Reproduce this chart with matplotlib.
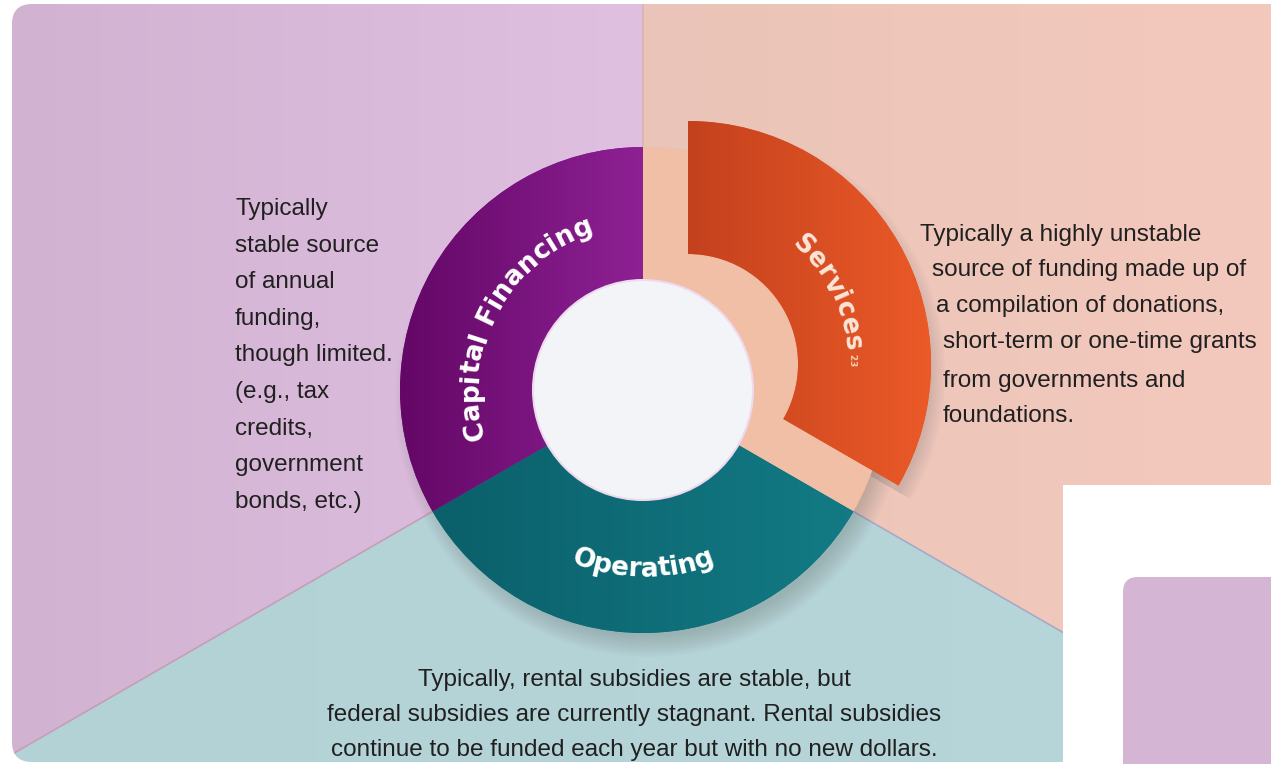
import numpy as np
import matplotlib
matplotlib.use("Agg")
import matplotlib.pyplot as plt
from matplotlib.patches import Wedge, Circle, FancyBboxPatch, Rectangle
from matplotlib.colors import LinearSegmentedColormap, to_rgb
from matplotlib import font_manager as fm

W, H = 1271, 764
CX, CY, R = 643, 390, 243      # ring centre / outer radius (px)
INNER = 110                    # inner radius (px)

# --- data ---------------------------------------------------------------
segments = ["Services", "Operating", "Capital Financing"]
shares = [1, 1, 1]
explode = [0.214, 0.0, 0.0]
ring_colors = [("#c4411e", "#eb5a28"), ("#0a5f6a", "#137b85"), ("#630766", "#8e2194")]
bg_colors = [("#eac4b8", "#f4c9bd"), ("#b3d2d6", "#b7d6da"), ("#d1b2d1", "#e0c0e1")]

left_lines = ["Typically", "stable source", "of annual", "funding,", "though limited.",
              "(e.g., tax", "credits,", "government", "bonds, etc.)"]
right_lines = ["Typically a highly unstable", "source of funding made up of",
               "a compilation of donations,", "short-term or one-time grants",
               "from governments and", "foundations."]
bottom_lines = ["Typically, rental subsidies are stable, but",
                "federal subsidies are currently stagnant. Rental subsidies",
                "continue to be funded each year but with no new dollars."]


def P(px, py):
    # pixel position -> data units (ring radius = 1)
    return (px - CX) / R, (CY - py) / R


# body font: condensed if we have it
try:
    fm.findfont(fm.FontProperties(family="Liberation Sans Narrow"), fallback_to_default=False)
    body_font = dict(family="Liberation Sans Narrow", size=21)
except ValueError:
    body_font = dict(family="Liberation Sans", size=17.5)

fig = plt.figure(figsize=(W / 100, H / 100), dpi=100)
ax = fig.add_axes([0, 0, 1, 1])
x0, y0 = P(0, H)
x1, y1 = P(W, 0)

# --- background sectors ---------------------------------------------------
spans = 360 * np.array(shares) / sum(shares)
starts = 90 - np.concatenate([[0], np.cumsum(spans)[:-1]])
yy, xx = np.mgrid[0:H, 0:W] + 0.5
ang = np.degrees(np.arctan2(CY - yy, xx - CX)) % 360
img = np.ones((H, W, 3))
xr = [(643, 1271), (0, 1271), (12, 643)]
for i in range(len(segments)):
    mask = ((starts[i] - ang) % 360) < spans[i]
    t = np.clip((xx - xr[i][0]) / (xr[i][1] - xr[i][0]), 0, 1)
    c0, c1 = np.array(to_rgb(bg_colors[i][0])), np.array(to_rgb(bg_colors[i][1]))
    col = c0 + (c1 - c0) * t[..., None]
    img[mask] = col[mask]

frame = FancyBboxPatch(P(12, 762), (1320 - 12) / R, (762 - 4) / R,
                       boxstyle="round,pad=0,rounding_size=%f" % (20 / R),
                       transform=ax.transData, fc="none", ec="none")
bg = ax.imshow(img, extent=(x0, x1, y0, y1), origin="upper", interpolation="nearest", zorder=0)
bg.set_clip_path(frame)

# thin lines between background sectors
for a, c in zip(starts, ["#d9b3ae", "#a8aac4", "#c49fb6"]):
    ln, = ax.plot([0, 6 * np.cos(np.radians(a))], [0, 6 * np.sin(np.radians(a))],
                  color=c, lw=1.2, zorder=1)
    ln.set_clip_path(frame)

# soft shadow under the ring
for k in range(14):
    ax.add_patch(Circle((7 / R, -12 / R), (R + 12 - 1.6 * k) / R, fc="#6d6d6d",
                        ec="none", alpha=0.022, zorder=2))
sv_mid = np.radians(starts[0] - spans[0] / 2)
sx, sy = explode[0] * np.cos(sv_mid), explode[0] * np.sin(sv_mid)
for k in range(10):
    ax.add_patch(Wedge((sx + 6 / R, sy - 10 / R), (R + 8 - 1.6 * k) / R,
                       starts[0] - spans[0], starts[0], width=(R - INNER) / R,
                       fc="#6d6d6d", ec="none", alpha=0.022, zorder=2))

# light base ring where the exploded wedge was
ax.add_patch(Wedge((0, 0), 1, starts[0] - spans[0], starts[0], width=(R - INNER) / R,
                   fc="#f1bea6", ec="none", zorder=3))

# --- donut ---------------------------------------------------------------
wedges, _ = ax.pie(shares, radius=1, center=(0, 0), startangle=90, counterclock=False,
                   explode=explode, colors=[c[1] for c in ring_colors],
                   wedgeprops=dict(width=(R - INNER) / R, linewidth=0, zorder=4))
grad_range = [(0, 1), (-0.9, 0.9), (-1, 0)]
for w, (c0, c1), (a, b) in zip(wedges, ring_colors, grad_range):
    cx, cy = w.center
    im = ax.imshow(np.linspace(0, 1, 256).reshape(1, -1),
                   extent=(cx + a * w.r, cx + b * w.r, cy - w.r, cy + w.r),
                   cmap=LinearSegmentedColormap.from_list("g", [c0, c1]),
                   aspect="auto", interpolation="bilinear", zorder=5)
    im.set_clip_path(w)

ax.add_patch(Circle((0, 0), INNER / R, fc="#f3f4f8", ec="#efd9ee", lw=1.5, zorder=6))


# --- curved labels ---------------------------------------------------------
def arc_text(s, center, r_px, mid_deg, clockwise, size, color):
    fp = fm.FontProperties(family="DejaVu Sans", weight="bold", size=size)
    font = fm.get_font(fm.findfont(fp))
    font.set_size(size, 100)
    adv = np.array([font.load_char(ord(ch)).linearHoriAdvance / 65536 for ch in s])
    pos = np.cumsum(adv) - adv / 2 - adv.sum() / 2
    sign = -1 if clockwise else 1
    for ch, p in zip(s, pos):
        th = mid_deg + sign * np.degrees(p / r_px)
        x = center[0] + r_px / R * np.cos(np.radians(th))
        y = center[1] + r_px / R * np.sin(np.radians(th))
        rot = th - 90 if clockwise else th + 90
        ax.text(x, y, ch, rotation=rot, rotation_mode="anchor", ha="center",
                va="baseline", fontproperties=fp, color=color, zorder=7)
    return mid_deg + sign * np.degrees(adv.sum() / 2 / r_px)


arc_text(segments[2], wedges[2].center, 165, 152, True, 19, "white")
arc_text(segments[1], wedges[1].center, 187, 270, False, 19, "white")
end = arc_text(segments[0], wedges[0].center, 158, 27, True, 18.5, "#fbe6d8")
arc_text("23", wedges[0].center, 161, end - 3.5, True, 6.5, "#f6d2b4")

# --- descriptions ------------------------------------------------------------
txt = dict(color="#202020", va="baseline", zorder=7, **body_font)
for i, s in enumerate(left_lines):
    ax.text(*P(235, 215 + 36.6 * i), s, ha="left", **txt)
right_x = [920, 932, 936, 943, 943, 943]
right_y = [241, 276, 312, 348, 387, 422]
for s, x, y in zip(right_lines, right_x, right_y):
    ax.text(*P(x, y), s, ha="left", **txt)
for i, s in enumerate(bottom_lines):
    ax.text(*P(634, 686 + 35 * i), s, ha="center", **txt)

# cropped neighbour panel in the lower right corner
ax.add_patch(Rectangle(P(1063, 770), (W + 10 - 1063) / R, (770 - 485) / R,
                       fc="white", ec="none", zorder=8))
ax.add_patch(FancyBboxPatch(P(1123, 800), (1320 - 1123) / R, (800 - 577) / R,
                            boxstyle="round,pad=0,rounding_size=%f" % (15 / R),
                            fc="#d4b6d4", ec="none", zorder=9))

ax.set_xlim(x0, x1)
ax.set_ylim(y0, y1)
ax.set_aspect("auto")
ax.axis("off")
fig.savefig("out.png", dpi=100)
